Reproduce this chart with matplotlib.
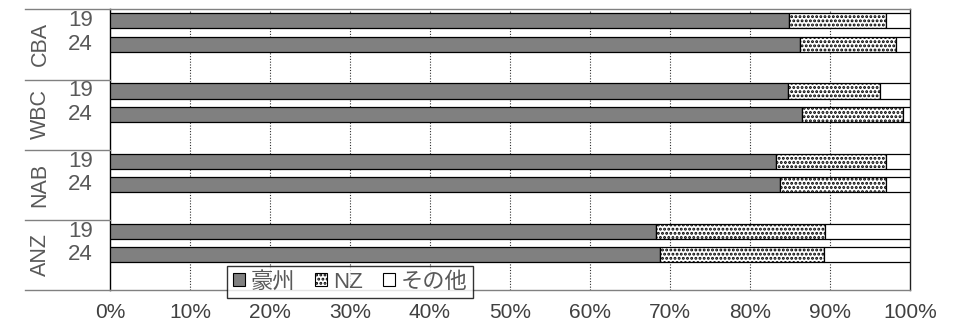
import matplotlib
matplotlib.use("Agg")
import matplotlib.pyplot as plt
from matplotlib.patches import Patch
from matplotlib.lines import Line2D

plt.rcParams['font.family'] = ['Liberation Sans', 'Noto Sans CJK JP']
plt.rcParams['hatch.linewidth'] = 1.4

banks = ["CBA", "WBC", "NAB", "ANZ"]
years = ["19", "24"]
# shares (%) per bank, per year
australia = [[84.9, 86.2], [84.8, 86.5], [83.3, 83.7], [68.2, 68.7]]
nz = [[12.1, 12.0], [11.4, 12.6], [13.7, 13.3], [21.2, 20.5]]
other = [[3.0, 1.8], [3.8, 0.9], [3.0, 3.0], [10.6, 10.8]]
series_names = ["豪州", "NZ", "その他"]
xticklabels = ["0%", "10%", "20%", "30%", "40%", "50%", "60%", "70%", "80%", "90%", "100%"]

W, H = 957, 323
fig = plt.figure(figsize=(W / 100, H / 100), dpi=100)
x0, x1, y0, y1 = 110, 910, 9, 290
ax = fig.add_axes([x0 / W, 1 - y1 / H, (x1 - x0) / W, (y1 - y0) / H])
px = 100 / (x1 - x0)  # data units per pixel along x

text_col = "#595959"
gray = "#808080"
bar_h = 0.65
hatch = "...."

for g, bank in enumerate(banks):
    for k, yr in enumerate(years):
        y = 3 * g + k + 0.5
        a, n, o = australia[g][k], nz[g][k], other[g][k]
        ax.barh(y, a, height=bar_h, left=0, color=gray, edgecolor="black", linewidth=0.9, zorder=3)
        ax.barh(y, n, height=bar_h, left=a, color="white", edgecolor="black", hatch=hatch,
                linewidth=0.9, zorder=3)
        ax.barh(y, o, height=bar_h, left=a + n, color="white", edgecolor="black", linewidth=0.9, zorder=3)

ax.set_xlim(0, 100)
ax.set_ylim(12, 0)
ax.set_xticks(range(0, 101, 10))
ax.set_xticklabels(xticklabels, fontsize=15, color="#404040")
ax.tick_params(axis="x", length=0, pad=9)
ax.set_yticks([])
for xv in range(10, 100, 10):
    ax.axvline(xv, color="#303030", linestyle=(0, (1, 1.5)), linewidth=0.8, zorder=1)

ax.spines["left"].set_color("black")
ax.spines["right"].set_color("#202020")
ax.spines["top"].set_color(gray)
ax.spines["bottom"].set_color(gray)
for s in ax.spines.values():
    s.set_linewidth(1.0)

# label column on the left: group separators and labels
lx0 = 25
for yy in [9, 80, 150, 220, 290]:
    fig.add_artist(Line2D([lx0 / W, x0 / W], [1 - yy / H, 1 - yy / H], color=gray, linewidth=1.0))

for g, bank in enumerate(banks):
    yc = 3 * g + 1.5
    ax.text((40 - x0) * px, yc, bank, rotation=90, ha="center", va="center",
            fontsize=15.5, color=text_col, clip_on=False)
    for k, yr in enumerate(years):
        ax.text((93 - x0) * px, 3 * g + k + 0.5, yr, ha="right", va="center", fontsize=16,
                color=text_col, clip_on=False)

handles = [
    Patch(facecolor=gray, edgecolor="black", linewidth=0.8),
    Patch(facecolor="white", edgecolor="black", hatch=hatch, linewidth=0.8),
    Patch(facecolor="white", edgecolor="black", linewidth=0.8),
]
leg = ax.legend(handles, series_names, ncol=3, loc="center",
                bbox_to_anchor=((350 - x0) / (x1 - x0), 1 - (282 - y0) / (y1 - y0)),
                frameon=True, fancybox=False, fontsize=16, handlelength=0.55, handleheight=0.55,
                handletextpad=0.25, columnspacing=0.9, borderpad=0.25, labelcolor=text_col)
leg.get_frame().set_edgecolor("black")
leg.get_frame().set_linewidth(1.0)
leg.set_zorder(5)

fig.savefig("out.png", dpi=100)
